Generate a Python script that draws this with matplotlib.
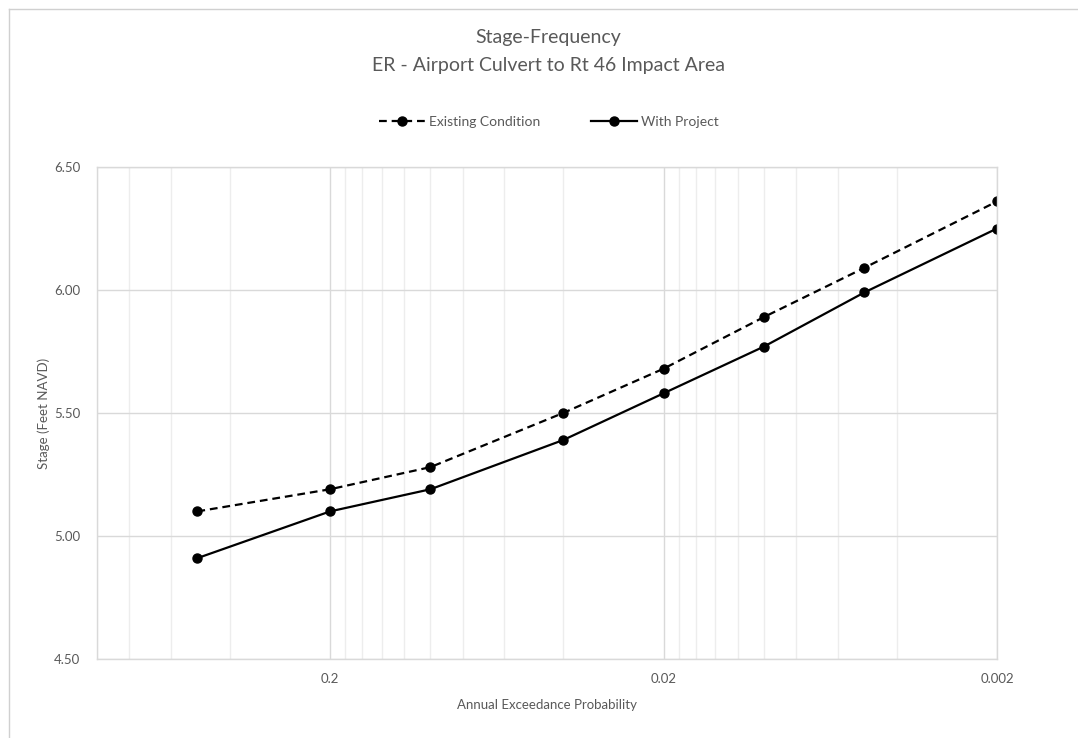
import numpy as np
import matplotlib.pyplot as plt
from matplotlib.lines import Line2D
from matplotlib.ticker import FixedLocator, FixedFormatter, NullFormatter

plt.rcParams['font.family'] = ['Lato', 'DejaVu Sans']

# data
aep = [0.5, 0.2, 0.1, 0.04, 0.02, 0.01, 0.005, 0.002]
existing = [5.10, 5.19, 5.28, 5.50, 5.68, 5.89, 6.09, 6.36]
with_project = [4.91, 5.10, 5.19, 5.39, 5.58, 5.77, 5.99, 6.25]

major_ticks = [0.2, 0.02, 0.002]
major_labels = ["0.2", "0.02", "0.002"]

grey = "#595959"

fig = plt.figure(figsize=(10.78, 7.38), dpi=100)
ax = fig.add_axes([97 / 1078, 1 - 659 / 738, 900 / 1078, 492 / 738])

ax.plot(aep, existing, color="black", lw=1.6, ls=(0, (3.5, 2.2)),
        marker="o", ms=6.5, label="Existing Condition")
ax.plot(aep, with_project, color="black", lw=1.6,
        marker="o", ms=6.5, label="With Project")

ax.set_xscale("log")
ax.set_xlim(1, 0.002)
ax.set_ylim(4.5, 6.5)

# Excel-style minor grid: multiples of 2*10^n
minor = []
for base in [0.002, 0.02, 0.2]:
    for k in range(2, 10):
        v = base * k
        if v <= 1.0:
            minor.append(v)
ax.xaxis.set_major_locator(FixedLocator(major_ticks))
ax.xaxis.set_major_formatter(FixedFormatter(major_labels))
ax.xaxis.set_minor_locator(FixedLocator(minor))
ax.xaxis.set_minor_formatter(NullFormatter())

ax.set_yticks([4.5, 5.0, 5.5, 6.0, 6.5])
ax.set_yticklabels(["4.50", "5.00", "5.50", "6.00", "6.50"])

ax.grid(which="major", color="#d9d9d9", lw=1.0)
ax.grid(which="minor", axis="x", color="#ededed", lw=1.0)
ax.set_axisbelow(True)

for s in ax.spines.values():
    s.set_color("#d9d9d9")
    s.set_linewidth(1.0)

ax.tick_params(axis="both", which="both", length=0, colors=grey, labelsize=9.5)
ax.tick_params(axis="x", pad=10)
ax.tick_params(axis="y", pad=12)

ax.set_xlabel("Annual Exceedance Probability", color=grey, fontsize=9.5, labelpad=10)
ax.set_ylabel("Stage (Feet NAVD)", color=grey, fontsize=9.5, labelpad=3)

fig.text(548 / 1078, 1 - 37 / 738, "Stage-Frequency", ha="center", va="center",
         fontsize=14, color=grey)
fig.text(548 / 1078, 1 - 66 / 738, "ER - Airport Culvert to Rt 46 Impact Area",
         ha="center", va="center", fontsize=14, color=grey)

fig.legend(loc="center", bbox_to_anchor=(549 / 1078, 1 - 122 / 738), ncol=2,
           frameon=False, fontsize=10, labelcolor=grey, handlelength=3.3,
           columnspacing=3.7, handletextpad=0.3)

# spreadsheet frame edges
fig.add_artist(Line2D([9 / 1078, 9 / 1078], [0, 1 - 9 / 738], color="#d0d0d0", lw=1))
fig.add_artist(Line2D([9 / 1078, 1], [1 - 9 / 738, 1 - 9 / 738], color="#d0d0d0", lw=1))

fig.savefig("out.png", dpi=100)
